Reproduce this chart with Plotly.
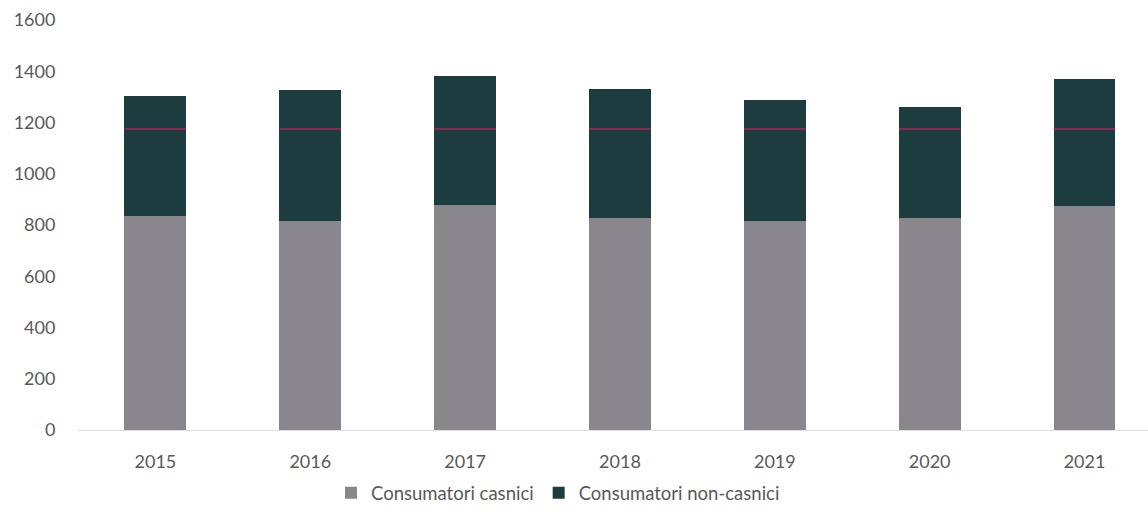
import plotly.graph_objects as go

years = ["2015", "2016", "2017", "2018", "2019", "2020", "2021"]
casnici = [836, 815, 879, 829, 814, 829, 875]
totals = [1303, 1327, 1383, 1332, 1288, 1262, 1370]
non_casnici = [t - c for t, c in zip(totals, casnici)]
red_line = [1175, 1175, 1175, 1175, 1175, 1175, 1175]
y_ticks = [0, 200, 400, 600, 800, 1000, 1200, 1400, 1600]

GREY = "#8a878c"
TEAL = "#1d3c3f"
TXT = "#595959"
FONT = "Lato"

fig = go.Figure()
fig.add_trace(go.Bar(x=years, y=casnici, name="Consumatori casnici",
                     marker=dict(color=GREY, line=dict(width=0)), width=0.4))
fig.add_trace(go.Bar(x=years, y=non_casnici, name="Consumatori non-casnici",
                     marker=dict(color=TEAL, line=dict(width=0)), width=0.4))
fig.add_trace(go.Scatter(x=years, y=red_line, mode="markers", showlegend=False,
                         hoverinfo="skip",
                         marker=dict(symbol="line-ew", size=44,
                                     line=dict(color="rgba(205,30,85,0.85)", width=1.5))))

fig.update_layout(
    barmode="stack",
    width=1148, height=519,
    margin=dict(l=78, r=0, t=20, b=89),
    paper_bgcolor="white", plot_bgcolor="white",
    font=dict(family=FONT, color=TXT, size=18),
    showlegend=True,
    legend=dict(orientation="h", x=0.4486, xanchor="center", y=-0.154, yanchor="middle",
                font=dict(size=18.5, color=TXT), itemwidth=30, traceorder="normal",
                bgcolor="rgba(0,0,0,0)"),
    xaxis=dict(type="category", range=[-0.5, 6.41], showgrid=False,
               showline=True, linecolor="#e0e0e0", linewidth=1,
               ticks="outside", ticklen=15, tickcolor="rgba(0,0,0,0)",
               tickfont=dict(size=18, color=TXT, family=FONT)),
    yaxis=dict(range=[0, 1600], tickvals=y_ticks, showgrid=False, zeroline=False,
               showline=False, ticks="outside", ticklen=18,
               tickcolor="rgba(0,0,0,0)",
               tickfont=dict(size=18, color=TXT, family=FONT)),
)

fig.write_html("out.html", config={"displayModeBar": False},
               post_script="document.body.style.margin='0';document.body.style.padding='0';")
